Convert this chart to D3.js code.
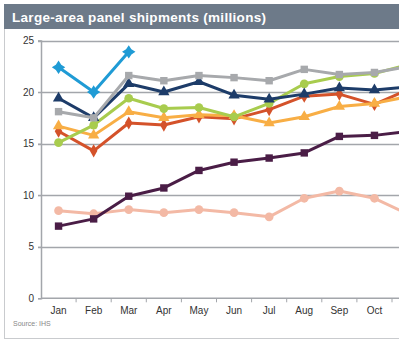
<!DOCTYPE html>
<html>
<head>
<meta charset="utf-8">
<script src="https://cdn.jsdelivr.net/npm/d3@7"></script>
<style>
  body { margin: 0; background: #fff; }
  svg { display: block; font-family: "Liberation Sans", Arial, sans-serif; }
</style>
</head>
<body>
<svg id="chart" width="399" height="342"></svg>
<script>
// months on the x axis (chart is cut off on the right, after Oct)
var months = ['Jan', 'Feb', 'Mar', 'Apr', 'May', 'Jun', 'Jul', 'Aug', 'Sep', 'Oct', 'Nov', 'Dec'];
var yTicks = [0, 5, 10, 15, 20, 25];

// values, millions
var blueVals   = [22.4, 20.0, 23.9];
var grayVals   = [18.1, 17.5, 21.6, 21.1, 21.6, 21.4, 21.1, 22.2, 21.7, 21.9, 22.5];
var navyVals   = [19.4, 17.5, 20.8, 20.0, 21.0, 19.7, 19.3, 19.8, 20.4, 20.2, 20.5];
var greenVals  = [15.1, 16.8, 19.4, 18.4, 18.5, 17.6, 18.9, 20.8, 21.5, 21.8, 22.7];
var orangeVals = [16.7, 15.8, 18.1, 17.5, 17.8, 17.7, 17.0, 17.6, 18.6, 18.9, 19.6];
var redVals    = [16.2, 14.3, 17.0, 16.8, 17.6, 17.4, 18.3, 19.6, 19.8, 18.8, 20.3];
var purpleVals = [7.0, 7.7, 9.9, 10.7, 12.4, 13.2, 13.6, 14.1, 15.7, 15.8, 16.2];
var peachVals  = [8.5, 8.2, 8.6, 8.3, 8.6, 8.3, 7.9, 9.7, 10.4, 9.7, 8.1];

var star4 = {
    draw: function(ctx, size) {
        var r = Math.sqrt(size) * 0.75, q = r * 0.4;
        ctx.moveTo(0, -r);
        ctx.lineTo(q, -q);
        ctx.lineTo(r, 0);
        ctx.lineTo(q, q);
        ctx.lineTo(0, r);
        ctx.lineTo(-q, q);
        ctx.lineTo(-r, 0);
        ctx.lineTo(-q, -q);
        ctx.closePath();
    }
};

// drawn back to front
var series = [
    { values: peachVals,  color: '#f3b9a5', symbol: d3.symbolCircle,   size: 60 },
    { values: purpleVals, color: '#4a1d46', symbol: d3.symbolSquare,   size: 55 },
    { values: redVals,    color: '#d4522a', symbol: d3.symbolDiamond,  size: 50 },
    { values: orangeVals, color: '#f8ae45', symbol: d3.symbolTriangle, size: 55 },
    { values: greenVals,  color: '#a8cc4e', symbol: d3.symbolCircle,   size: 60 },
    { values: navyVals,   color: '#1d3c69', symbol: d3.symbolTriangle, size: 55 },
    { values: grayVals,   color: '#a7a9ac', symbol: d3.symbolSquare,   size: 55 },
    { values: blueVals,   color: '#1f9bd5', symbol: star4,             size: 80 }
];

var svg = d3.select('#chart');
var W = +svg.attr('width');

var x0 = 41, bandW = 35.1;
var x = d3.scaleBand()
    .domain(months)
    .range([x0, x0 + bandW * months.length]);

var y = d3.scaleLinear()
    .domain([0, 25])
    .range([298.3, 40.5]);

// outer frame
svg.append('rect')
    .attr('x', 4.5).attr('y', 4.5)
    .attr('width', 420).attr('height', 334)
    .attr('fill', '#fff')
    .attr('stroke', '#c9cbce');

// title bar
svg.append('rect')
    .attr('x', 4).attr('y', 4)
    .attr('width', 420).attr('height', 25)
    .attr('fill', '#6d7a89');

svg.append('text')
    .attr('x', 12).attr('y', 22)
    .attr('fill', '#fff')
    .attr('font-size', 13.5)
    .attr('font-weight', 'bold')
    .attr('textLength', 254)
    .text('Large-area panel shipments (millions)');

// gridlines
svg.append('g')
    .selectAll('line')
    .data(yTicks.filter(function(d) { return d > 0; }))
    .join('line')
    .attr('x1', x0 - 3).attr('x2', 430)
    .attr('y1', function(d) { return Math.round(y(d)) + 0.5; })
    .attr('y2', function(d) { return Math.round(y(d)) + 0.5; })
    .attr('stroke', '#a3a6ab')
    .attr('stroke-width', 1.5);

// y axis
var yAxis = svg.append('g')
    .attr('transform', 'translate(' + x0 + ',0)')
    .call(d3.axisLeft(y).tickValues(yTicks).tickSize(3).tickPadding(4));
yAxis.select('.domain').attr('stroke', '#a3a6ab').attr('stroke-width', 1.5);
yAxis.selectAll('.tick line').attr('stroke', '#a3a6ab');
yAxis.selectAll('text').attr('font-size', 10).attr('fill', '#333')
    .attr('font-family', '"Liberation Sans", Arial, sans-serif');

// x axis, ticks between categories
var xAxisG = svg.append('g')
    .attr('transform', 'translate(0,' + y(0) + ')');
xAxisG.append('line')
    .attr('x1', x0).attr('x2', 430)
    .attr('stroke', '#a3a6ab').attr('stroke-width', 1.5);
xAxisG.selectAll('.tk')
    .data(months)
    .join('line')
    .attr('class', 'tk')
    .attr('x1', function(d) { return x(d) + bandW; })
    .attr('x2', function(d) { return x(d) + bandW; })
    .attr('y1', 0).attr('y2', 4)
    .attr('stroke', '#a3a6ab');
// only the labels that fit inside the visible part
xAxisG.selectAll('text')
    .data(months.filter(function(d) { return x(d) + bandW / 2 + 12 < W; }))
    .join('text')
    .attr('x', function(d) { return x(d) + bandW / 2; })
    .attr('y', 16)
    .attr('text-anchor', 'middle')
    .attr('font-size', 10)
    .attr('fill', '#333')
    .text(function(d) { return d; });

// lines and markers
var line = d3.line()
    .x(function(d, i) { return x(months[i]) + bandW / 2; })
    .y(function(d) { return y(d); });

series.forEach(function(s) {
    var g = svg.append('g');
    g.append('path')
        .attr('d', line(s.values))
        .attr('fill', 'none')
        .attr('stroke', s.color)
        .attr('stroke-width', 3)
        .attr('stroke-linejoin', 'round');
    g.selectAll('path.mk')
        .data(s.values)
        .join('path')
        .attr('class', 'mk')
        .attr('transform', function(d, i) {
            return 'translate(' + (x(months[i]) + bandW / 2) + ',' + y(d) + ')';
        })
        .attr('d', d3.symbol().type(s.symbol).size(s.size))
        .attr('fill', s.color);
});

// source note
svg.append('text')
    .attr('x', 13).attr('y', 326)
    .attr('font-size', 7)
    .attr('fill', '#888')
    .text('Source: IHS');
</script>
</body>
</html>
